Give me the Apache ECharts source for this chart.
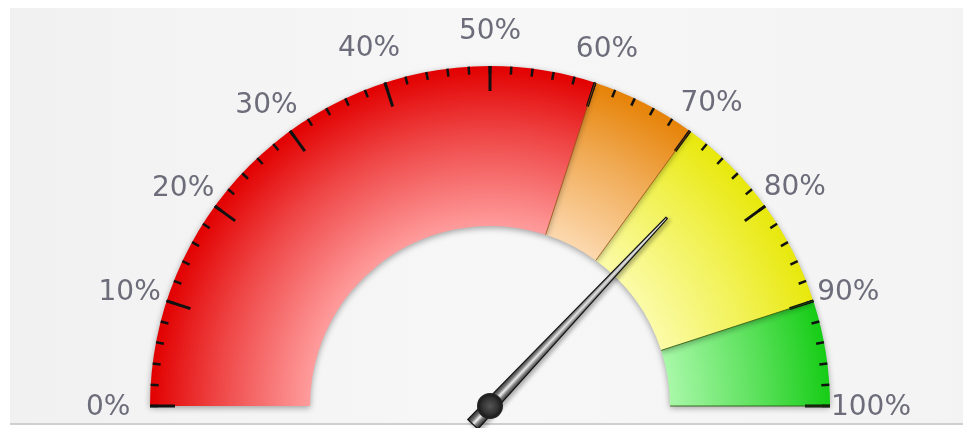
<!DOCTYPE html>
<html><head><meta charset="utf-8">
<script src="https://cdn.jsdelivr.net/npm/echarts@6/dist/echarts.min.js"></script>
<style>html,body{margin:0;padding:0;background:#fff}#c{width:963px;height:428px}</style>
</head><body><div id="c"></div>
<script>
// ---- data ----
const gaugeMin = 0;
const gaugeMax = 100;
const tickLabels = ['0%', '10%', '20%', '30%', '40%', '50%', '60%', '70%', '80%', '90%', '100%'];
const bandEnds = [60, 70, 90, 100];           // band upper bounds (value)
const bandInner = ['#ff9c9c', '#fcd8ae', '#fbfba8', '#a8f8a8'];
const bandOuter = ['#e20000', '#e68206', '#e8e80c', '#16cc16'];
const needleValue = [74];

// ---- layout / style ----
const CX = 490, CY = 406, R = 340, BAND = 160, LABEL_R = 440;
// per-label padding [top, right, bottom, left] to place labels outside the arc
const labelPad = [
  [4, 0, 0, 36], [46, 0, 0, 27], [83, 0, 0, 18], [42, 0, 0, 4], [47, 0, 0, 30], [52, 0, 0, 0],
  [48, 38, 0, 0], [40, 6, 0, 0], [81, 20, 0, 0], [46, 29, 0, 0], [4, 19, 0, 0]
];
const rich = {};
labelPad.forEach((p, i) => { rich['l' + i] = {padding: p, color: '#6c6c7a', fontSize: 28,
  fontFamily: 'DejaVu Sans, Verdana, sans-serif'}; });

const chart = echarts.init(document.getElementById('c'), null, {renderer: 'canvas'});

const axisColors = bandEnds.map((v, i) => [
  (v - gaugeMin) / (gaugeMax - gaugeMin),
  new echarts.graphic.RadialGradient(CX, CY, R, [
    {offset: (R - BAND) / R, color: bandInner[i]},
    {offset: 0.8, color: echarts.color.lerp(0.55, [bandInner[i], bandOuter[i]])},
    {offset: 1, color: bandOuter[i]}
  ], true)
]);

function boundaryGauge(fromV, toV, color) {
  const a0 = 180 - (fromV - gaugeMin) / (gaugeMax - gaugeMin) * 180;
  const a1 = 180 - (toV - gaugeMin) / (gaugeMax - gaugeMin) * 180;
  return {
    type: 'gauge', center: [CX, CY], radius: R, startAngle: a0, endAngle: a1,
    min: fromV, max: toV, splitNumber: 1, z: 3,
    axisLine: {show: false, lineStyle: {width: BAND}},
    splitLine: {show: true, length: BAND, distance: -BAND, lineStyle: {color: color, width: 1}},
    axisTick: {show: false}, axisLabel: {show: false}, pointer: {show: false},
    anchor: {show: false}, title: {show: false}, detail: {show: false}, data: []
  };
}

const option = {
  backgroundColor: '#ffffff',
  animation: false,
  graphic: [
    {type: 'rect', z: -10, silent: true, shape: {x: 10, y: 8, width: 953, height: 416},
     style: {fill: new echarts.graphic.LinearGradient(0, 0, 1, 0, [
       {offset: 0, color: '#f1f1f1'}, {offset: 0.5, color: '#f7f7f7'}, {offset: 1, color: '#f3f3f3'}])}},
    {type: 'rect', z: -9, silent: true, shape: {x: 10, y: 423, width: 953, height: 2},
     style: {fill: '#cfcfcf'}}
  ],
  series: [
    {
      type: 'gauge',
      center: [CX, CY],
      radius: R,
      startAngle: 180,
      endAngle: 0,
      min: gaugeMin,
      max: gaugeMax,
      splitNumber: 10,
      z: 2,
      axisLine: {
        show: true,
        lineStyle: {
          width: BAND,
          color: axisColors,
          shadowBlur: 6,
          shadowColor: 'rgba(0,0,0,0.35)',
          shadowOffsetY: 2
        }
      },
      splitLine: {show: true, length: 25, distance: -BAND, lineStyle: {color: '#111', width: 3}},
      axisTick: {show: true, splitNumber: 5, length: 8, distance: -BAND, lineStyle: {color: '#111', width: 2.5}},
      axisLabel: {show: false},
      pointer: {show: false},
      anchor: {show: false},
      title: {show: false},
      detail: {show: false},
      data: []
    },
    boundaryGauge(60, 70, 'rgba(150,70,0,0.7)'),
    boundaryGauge(90, 100, 'rgba(30,80,0,0.8)'),
    {
      type: 'gauge',
      center: [CX, CY],
      radius: R,
      startAngle: 180,
      endAngle: 0,
      min: gaugeMin,
      max: gaugeMax,
      z: 5,
      axisLine: {show: false, lineStyle: {width: BAND}},
      splitLine: {show: false},
      axisTick: {show: false},
      axisLabel: {show: false},
      pointer: {
        show: true,
        icon: 'path://M6,0 L8,0 L14,283 L0,283 Z',
        length: 283,
        width: 14,
        offsetCenter: [0, 25],
        itemStyle: {
          color: new echarts.graphic.LinearGradient(0, 0, 1, 0, [
            {offset: 0, color: '#1e1e1e'}, {offset: 0.3, color: '#7a7a7a'},
            {offset: 0.5, color: '#f4f4f4'}, {offset: 0.7, color: '#7a7a7a'}, {offset: 1, color: '#1e1e1e'}]),
          borderColor: '#111',
          borderWidth: 1.2,
          shadowBlur: 4,
          shadowColor: 'rgba(0,0,0,0.3)',
          shadowOffsetX: 2,
          shadowOffsetY: 2
        }
      },
      anchor: {
        show: true,
        showAbove: true,
        size: 24,
        icon: 'circle',
        itemStyle: {
          color: new echarts.graphic.RadialGradient(0.5, 0.5, 0.5, [
            {offset: 0, color: '#555'}, {offset: 0.6, color: '#333'}, {offset: 1, color: '#111'}]),
          borderColor: '#222',
          borderWidth: 2
        }
      },
      title: {show: false},
      detail: {show: false},
      data: needleValue.map(v => ({value: v}))
    },
    {
      type: 'gauge',
      center: [CX, CY],
      radius: LABEL_R,
      startAngle: 180,
      endAngle: 0,
      min: gaugeMin,
      max: gaugeMax,
      splitNumber: 10,
      axisLine: {show: false, lineStyle: {width: 0}},
      splitLine: {show: false, length: 0, distance: 0},
      axisTick: {show: false},
      pointer: {show: false},
      anchor: {show: false},
      title: {show: false},
      detail: {show: false},
      axisLabel: {
        show: true,
        distance: 0,
        color: '#6c6c7a',
        fontSize: 28,
        fontFamily: 'DejaVu Sans, Verdana, sans-serif',
        rich: rich,
        formatter: v => {
          const i = Math.round((v - gaugeMin) / (gaugeMax - gaugeMin) * 10);
          return '{l' + i + '|' + tickLabels[i] + '}';
        }
      },
      data: []
    }
  ]
};
chart.setOption(option);
</script>
</body></html>
